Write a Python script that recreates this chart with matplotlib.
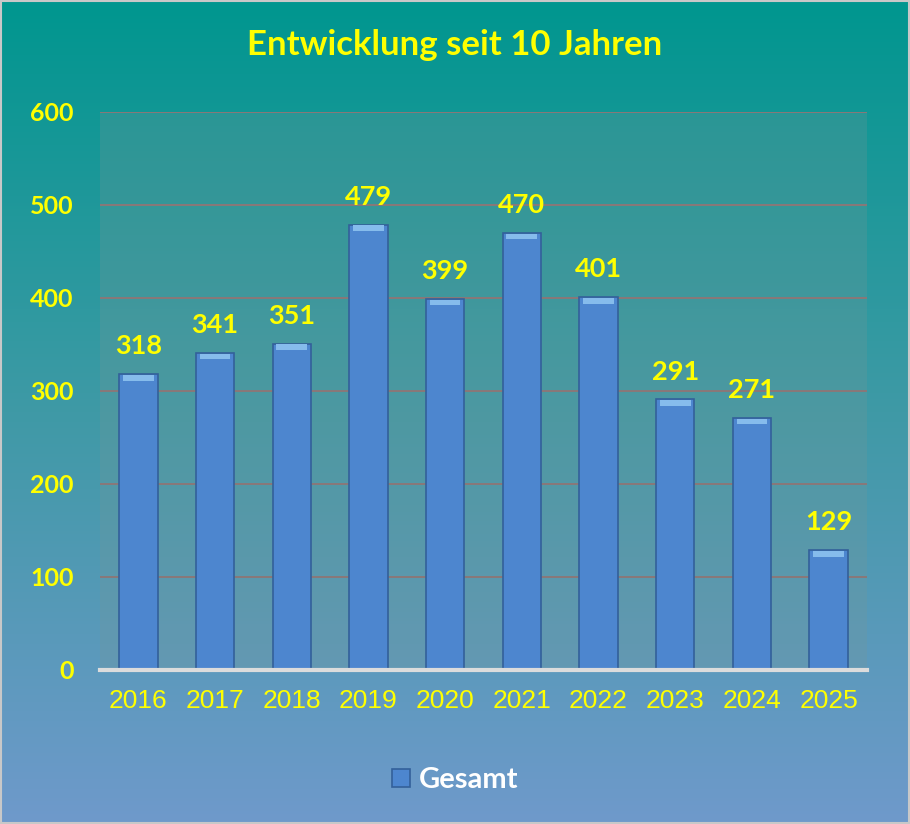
import matplotlib.pyplot as plt
import numpy as np
from matplotlib.colors import LinearSegmentedColormap

years = ['2016', '2017', '2018', '2019', '2020', '2021', '2022', '2023', '2024', '2025']
values = [318, 341, 351, 479, 399, 470, 401, 291, 271, 129]
series_name = 'Gesamt'
title = 'Entwicklung seit 10 Jahren'

yellow = '#ffff00'

fig = plt.figure(figsize=(9.1, 8.24), dpi=100)

# gradient background over the whole figure
bg = fig.add_axes([0, 0, 1, 1], zorder=-10)
cmap = LinearSegmentedColormap.from_list('bg', ['#00968f', '#3f9aa6', '#6f99cb'])
grad = np.linspace(0, 1, 256).reshape(-1, 1)
bg.imshow(grad, aspect='auto', cmap=cmap, extent=[0, 1, 0, 1], origin='upper')
bg.set_xlim(0, 1)
bg.set_ylim(0, 1)
bg.axis('off')
bg.add_patch(plt.Rectangle((0.001, 0.001), 0.998, 0.998, fill=False,
                           edgecolor='#c8c8c8', linewidth=1.5))

ax = fig.add_axes([0.1099, 0.1869, 0.8428, 0.6772])
ax.set_facecolor((0.47, 0.59, 0.59, 0.25))

x = np.arange(len(years))
bars = ax.bar(x, values, width=0.5, color='#4d86cf', edgecolor='#33609a',
              linewidth=1.2, zorder=3, label=series_name)
# lighter bevel on the top of each bar
cap = 6
ax.bar(x, [cap] * len(values), bottom=np.array(values) - cap - 1, width=0.4,
       color='#86bcec', linewidth=0, zorder=4)

for xi, v in zip(x, values):
    ax.text(xi, v + 17, str(v), ha='center', va='bottom', color=yellow,
            fontsize=19.5, fontweight='bold', family='Lato')

ax.set_xlim(-0.5, len(years) - 0.5)
ax.set_ylim(0, 600)
ax.set_yticks(range(0, 601, 100))
ax.yaxis.grid(True, color='#8a7878', linewidth=1.4, zorder=0)
ax.set_axisbelow(True)
for s in ['top', 'right', 'left']:
    ax.spines[s].set_visible(False)
ax.spines['bottom'].set_color('#dcdcdc')
ax.spines['bottom'].set_linewidth(3)
ax.spines['bottom'].set_zorder(5)

ax.set_xticks(x)
ax.set_xticklabels(years, color=yellow, fontsize=19, family='Liberation Sans')
ax.tick_params(axis='x', length=0, pad=14)
ax.tick_params(axis='y', length=0, pad=19)
for lbl in ax.get_yticklabels():
    lbl.set_color(yellow)
    lbl.set_fontsize(18)
    lbl.set_fontweight('bold')
    lbl.set_family('Lato')

fig.text(0.5, 0.945, title, ha='center', va='center', color=yellow,
         fontsize=25, fontweight='bold', family='Lato')

leg = fig.legend(handles=[bars], labels=[series_name], loc='center',
                 bbox_to_anchor=(0.5, 0.053), frameon=False,
                 handlelength=0.6, handleheight=0.6, handletextpad=0.3,
                 prop={'family': 'Lato', 'weight': 'bold', 'size': 21})
for t in leg.get_texts():
    t.set_color('white')

fig.savefig('out.png', dpi=100)
